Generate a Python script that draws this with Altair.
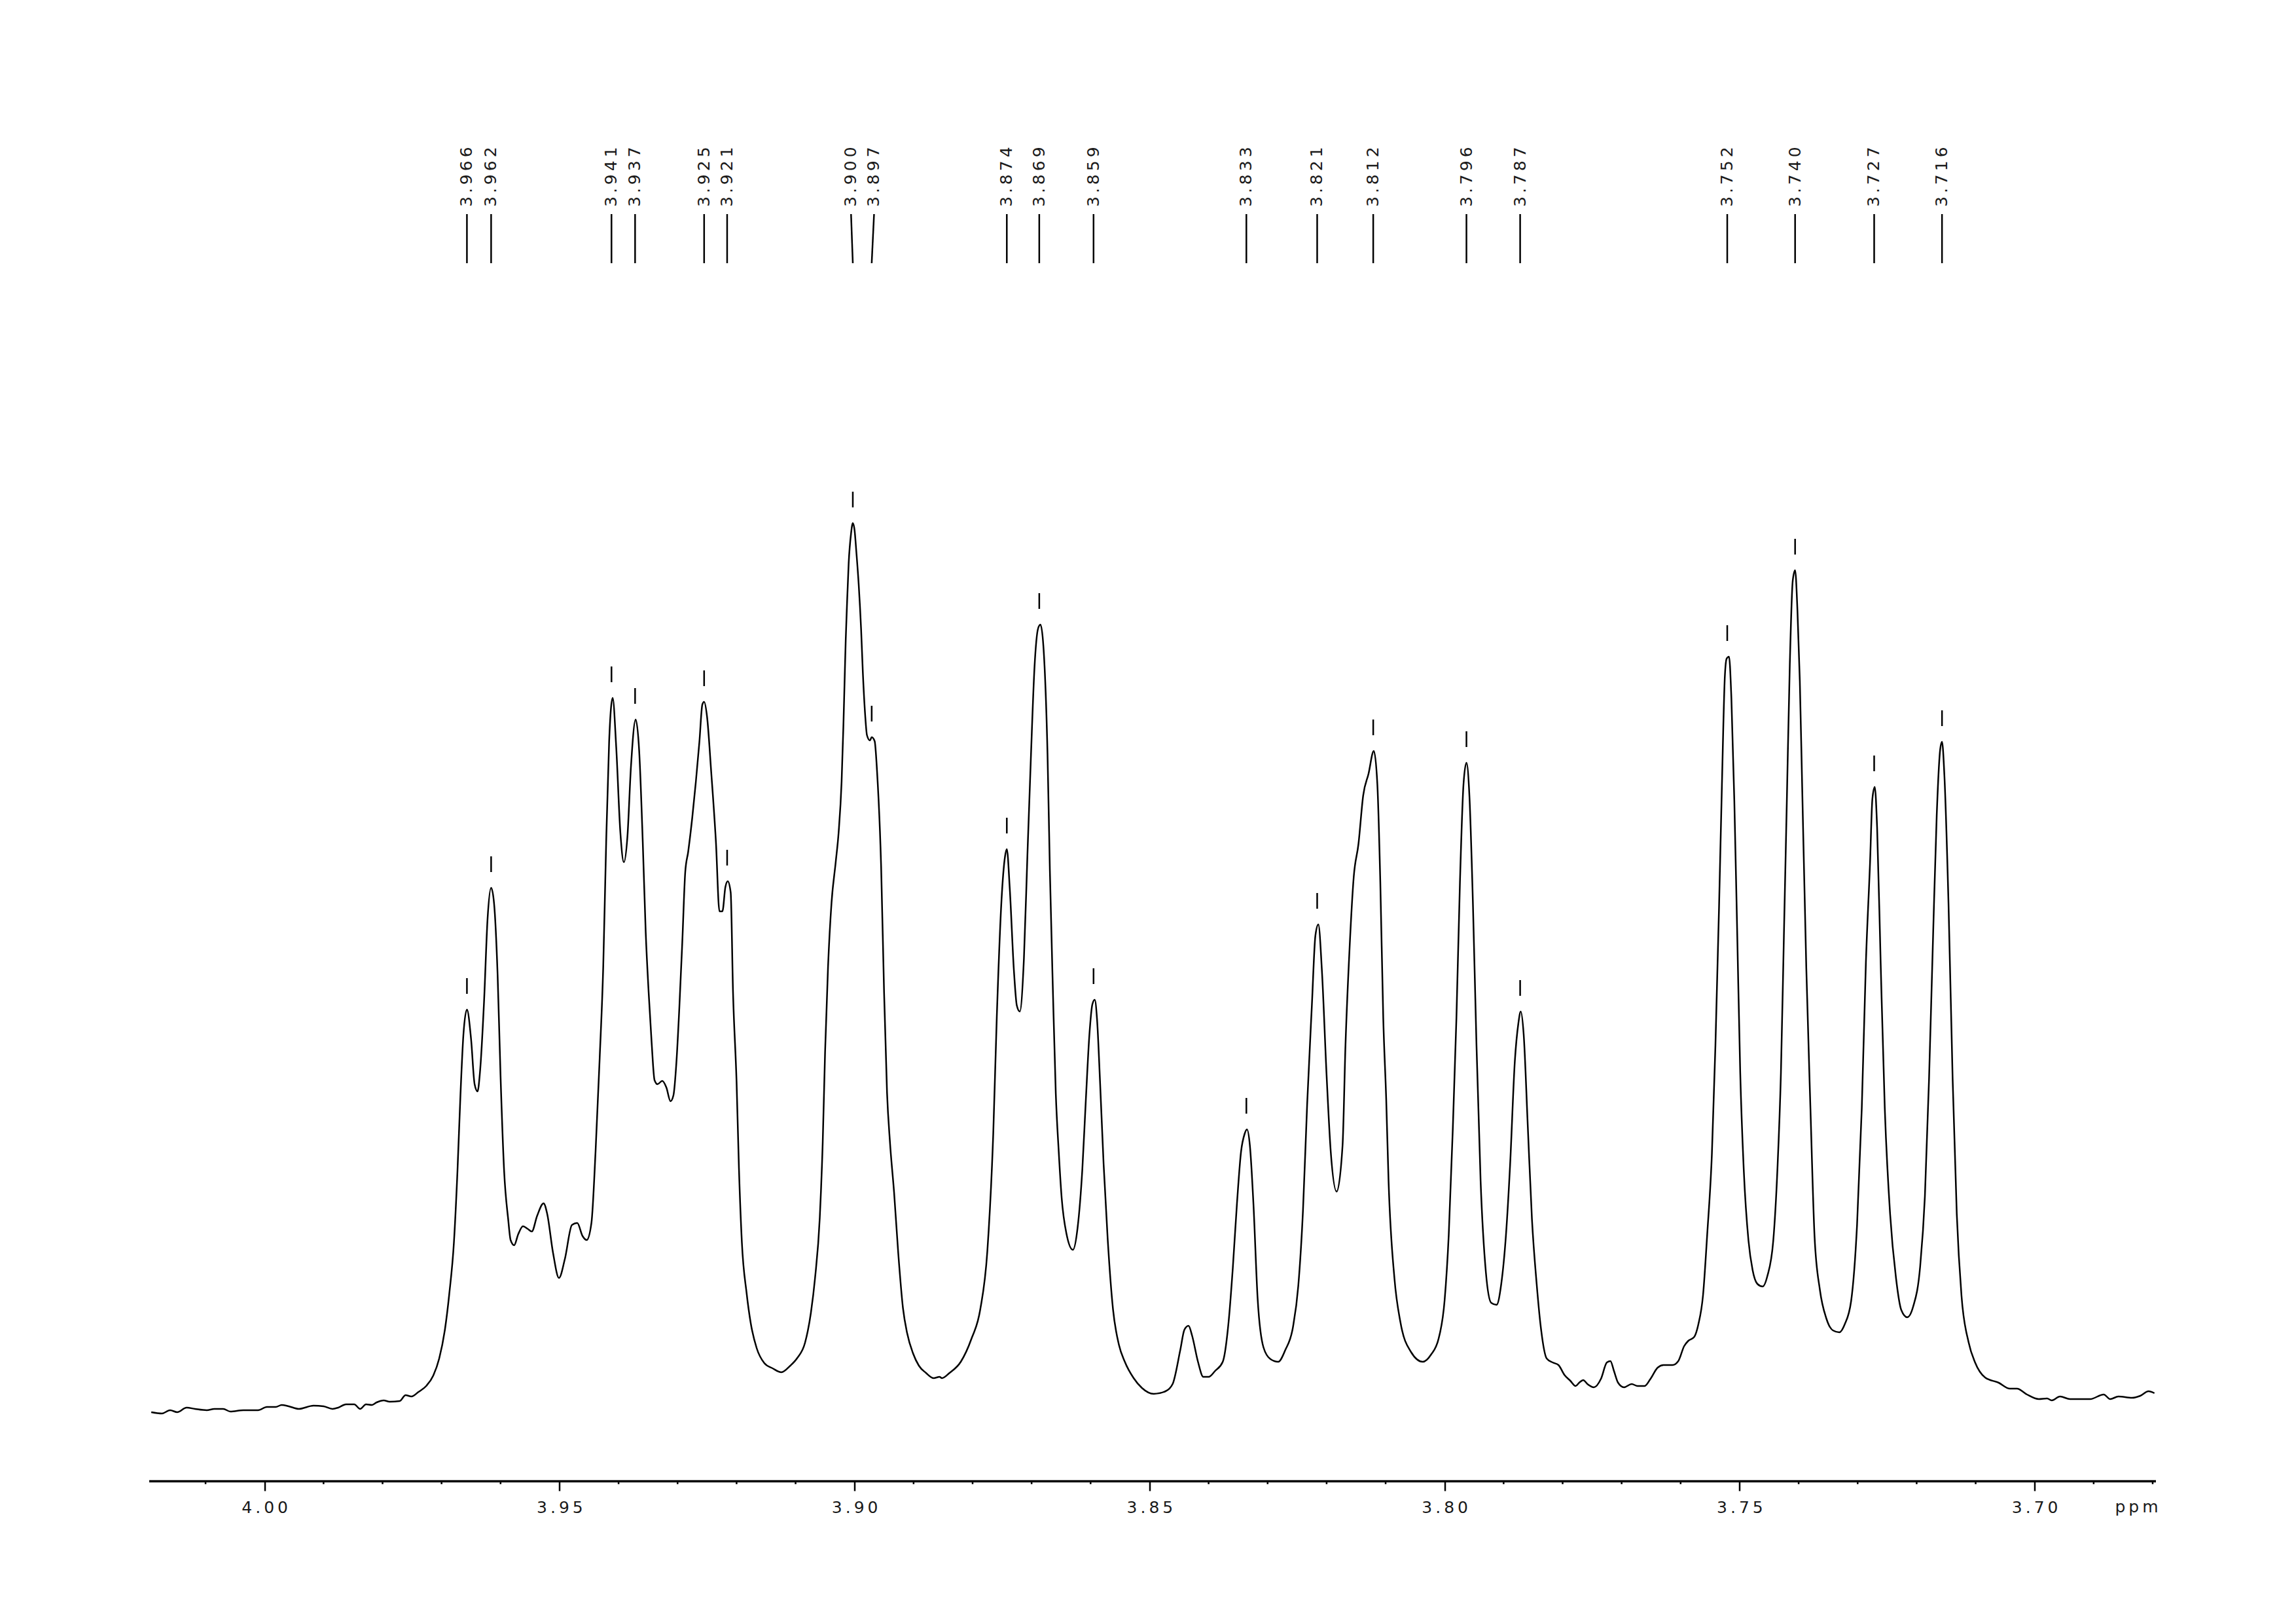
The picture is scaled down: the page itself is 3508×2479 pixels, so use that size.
import altair as alt
import pandas as pd

# ---- spectrum trace (chemical shift in ppm, intensity in arbitrary units) ----
seg_baseline_left = [
    (4.0192, 0.3), (4.0174, 0.1), (4.0160, 0.6), (4.0148, 0.3), (4.0132, 1.0), (4.0118, 0.8),
    (4.0098, 0.6), (4.0085, 0.8), (4.0070, 0.8), (4.0058, 0.4), (4.0036, 0.6), (4.0011, 0.6),
    (3.9996, 1.1), (3.9981, 1.1), (3.9971, 1.4), (3.9959, 1.2), (3.9942, 0.8), (3.9917, 1.3),
    (3.9900, 1.2), (3.9885, 0.8), (3.9875, 1.0), (3.9862, 1.5), (3.9848, 1.5), (3.9838, 0.8),
    (3.9828, 1.5), (3.9818, 1.4), (3.9810, 1.8), (3.9798, 2.1), (3.9788, 1.9), (3.9771, 2.0),
    (3.9761, 2.9), (3.9751, 2.7), (3.9739, 3.4), (3.9726, 4.3), (3.9714, 5.9), (3.9704, 8.5),
]
seg_396 = [
    (3.9694, 13.1), (3.9687, 18.3), (3.9679, 26.3), (3.9673, 37.2), (3.9668, 48.7), (3.9663, 57.9),
    (3.9657, 61.8), (3.9650, 57.3), (3.9644, 50.4), (3.9639, 49.3), (3.9635, 52.1), (3.9628, 63.0),
    (3.9622, 75.7), (3.9616, 80.4), (3.9611, 78.0), (3.9605, 67.1), (3.9600, 51.6), (3.9594, 37.2),
    (3.9587, 29.7), (3.9583, 26.6), (3.9577, 25.8), (3.9570, 27.5), (3.9562, 28.7), (3.9554, 28.3),
    (3.9547, 27.9), (3.9538, 30.3), (3.9527, 32.2), (3.9521, 30.6), (3.9511, 24.6), (3.9501, 20.8),
    (3.9491, 23.7), (3.9479, 28.9), (3.9470, 29.2), (3.9461, 27.2), (3.9454, 26.6), (3.9446, 29.2),
]
seg_394 = [
    (3.9439, 40.1), (3.9432, 54.4), (3.9426, 68.3), (3.9421, 87.4), (3.9416, 102.7), (3.9410, 109.4),
    (3.9404, 101.9), (3.9397, 88.9), (3.9391, 84.3), (3.9385, 88.2), (3.9379, 98.9), (3.9371, 106.1),
    (3.9365, 101.2), (3.9359, 87.4), (3.9354, 73.6), (3.9349, 64.4), (3.9344, 56.8), (3.9339, 51.0),
    (3.9334, 50.4), (3.9326, 50.9), (3.9319, 49.9), (3.9312, 47.8), (3.9307, 48.7), (3.9302, 53.7),
    (3.9297, 62.1), (3.9292, 72.1), (3.9287, 82.8), (3.9282, 85.9), (3.9275, 91.2), (3.9269, 96.6),
    (3.9263, 102.7), (3.9258, 108.4), (3.9255, 108.8), (3.9250, 106.5), (3.9243, 98.1), (3.9235, 87.4),
    (3.9229, 76.8), (3.9224, 76.8), (3.9219, 80.5), (3.9215, 81.4), (3.9210, 79.7), (3.9206, 64.4),
    (3.9200, 50.7), (3.9196, 37.6), (3.9191, 26.2), (3.9183, 18.5), (3.9176, 13.9), (3.9166, 10.1),
    (3.9153, 7.8), (3.9139, 7.0), (3.9124, 6.4), (3.9109, 7.4), (3.9097, 8.6), (3.9084, 10.9),
]
seg_390 = [
    (3.9074, 15.5), (3.9067, 20.8), (3.9059, 30.0), (3.9054, 41.5), (3.9050, 55.3), (3.9045, 68.3),
    (3.9039, 78.2), (3.9032, 84.3), (3.9027, 88.9), (3.9022, 96.6), (3.9019, 105.0), (3.9017, 111.7),
    (3.9015, 118.3), (3.9013, 123.3), (3.9010, 130.0), (3.9006, 134.5), (3.9003, 136.1), (3.9000, 135.0),
    (3.8997, 131.7), (3.8993, 126.7), (3.8989, 120.0), (3.8986, 113.3), (3.8982, 106.7), (3.8979, 103.7),
    (3.8974, 102.9), (3.8971, 103.4), (3.8966, 102.8), (3.8962, 98.3), (3.8955, 83.6), (3.8950, 64.4),
    (3.8945, 49.1), (3.8940, 41.5), (3.8933, 33.8), (3.8926, 24.6), (3.8918, 16.2), (3.8911, 12.4),
    (3.8901, 9.3), (3.8891, 7.4), (3.8879, 6.3), (3.8866, 5.5), (3.8856, 5.7), (3.8852, 5.5),
    (3.8839, 6.3), (3.8820, 8.0), (3.8802, 11.5), (3.8787, 16.0),
]
seg_387 = [
    (3.8775, 24.9), (3.8765, 42.8), (3.8759, 60.6), (3.8751, 78.5), (3.8745, 85.2), (3.8742, 86.3),
    (3.8737, 80.3), (3.8730, 67.8), (3.8725, 62.4), (3.8720, 61.5), (3.8713, 69.6), (3.8707, 85.6),
    (3.8701, 100.8), (3.8695, 114.2), (3.8689, 120.0), (3.8685, 120.6), (3.8680, 117.3), (3.8673, 100.8),
    (3.8669, 83.0), (3.8664, 65.1), (3.8659, 49.0), (3.8654, 40.1), (3.8649, 33.0), (3.8641, 27.6),
    (3.8630, 25.1), (3.8622, 28.5), (3.8614, 37.4), (3.8608, 48.1), (3.8602, 58.0), (3.8597, 62.6),
    (3.8593, 63.3), (3.8589, 60.2), (3.8584, 50.8), (3.8578, 38.3), (3.8571, 26.7), (3.8562, 16.0),
    (3.8552, 10.6), (3.8542, 8.0), (3.8527, 5.5), (3.8513, 4.0), (3.8493, 3.1), (3.8473, 3.5),
    (3.8461, 4.6), (3.8448, 9.8), (3.8441, 12.9), (3.8434, 13.5), (3.8428, 12.0), (3.8418, 8.0),
    (3.8409, 5.7), (3.8400, 5.7), (3.8389, 6.6), (3.8376, 8.0),
]
seg_382 = [
    (3.8366, 14.2), (3.8359, 22.3), (3.8352, 32.1), (3.8345, 40.1), (3.8339, 42.8), (3.8335, 43.5),
    (3.8330, 41.0), (3.8324, 32.1), (3.8317, 17.8), (3.8307, 10.2), (3.8295, 8.4), (3.8282, 8.0),
    (3.8270, 9.8), (3.8257, 13.3), (3.8248, 19.6), (3.8240, 31.2), (3.8233, 47.3), (3.8225, 62.4),
    (3.8219, 73.1), (3.8214, 74.8), (3.8208, 67.8), (3.8200, 51.7), (3.8193, 40.1), (3.8183, 34.0),
    (3.8173, 41.0), (3.8168, 56.4), (3.8161, 71.3), (3.8154, 82.1), (3.8146, 87.1), (3.8138, 94.5),
    (3.8129, 97.8), (3.8120, 101.3), (3.8114, 96.2), (3.8109, 81.3), (3.8104, 60.5), (3.8099, 48.1),
    (3.8095, 35.6), (3.8085, 20.7), (3.8075, 14.1), (3.8057, 9.5), (3.8037, 8.0), (3.8023, 9.1),
    (3.8010, 11.6),
]
seg_379 = [
    (3.8000, 17.4), (3.7993, 27.4), (3.7986, 43.9), (3.7980, 60.5), (3.7974, 81.3), (3.7968, 96.2),
    (3.7963, 99.5), (3.7958, 94.5), (3.7952, 77.9), (3.7946, 56.4), (3.7939, 35.6), (3.7930, 21.6),
    (3.7921, 17.0), (3.7912, 16.7), (3.7904, 19.9), (3.7896, 27.4), (3.7889, 38.1), (3.7881, 53.9),
    (3.7875, 59.7), (3.7871, 61.5), (3.7866, 58.0), (3.7859, 43.9), (3.7852, 29.8), (3.7844, 19.9),
    (3.7837, 13.3), (3.7827, 8.5), (3.7817, 7.9), (3.7807, 7.5), (3.7797, 6.0), (3.7787, 5.1),
    (3.7778, 4.3), (3.7772, 4.8), (3.7765, 5.2), (3.7758, 4.6), (3.7747, 4.1), (3.7735, 5.4),
    (3.7725, 7.9), (3.7719, 8.1), (3.7713, 6.6), (3.7706, 4.8), (3.7696, 4.1), (3.7683, 4.6),
    (3.7673, 4.3), (3.7661, 4.3), (3.7651, 5.4), (3.7639, 7.1), (3.7629, 7.5), (3.7614, 7.5),
    (3.7604, 8.1), (3.7594, 10.4), (3.7587, 11.2), (3.7577, 11.8), (3.7570, 13.7),
]
seg_373 = [
    (3.7562, 18.2), (3.7555, 27.4), (3.7547, 39.8), (3.7541, 56.4), (3.7535, 77.1), (3.7530, 96.2),
    (3.7525, 112.8), (3.7522, 115.4), (3.7518, 115.7), (3.7514, 109.4), (3.7509, 93.7), (3.7504, 73.0),
    (3.7499, 52.2), (3.7493, 37.3), (3.7485, 26.5), (3.7478, 22.0), (3.7470, 19.9), (3.7461, 19.5),
    (3.7453, 21.1), (3.7443, 26.5), (3.7436, 37.3), (3.7430, 52.2), (3.7425, 73.0), (3.7420, 93.7),
    (3.7415, 114.4), (3.7410, 127.3), (3.7406, 128.9), (3.7402, 122.7), (3.7398, 112.0), (3.7394, 95.8),
    (3.7387, 68.1), (3.7380, 46.7), (3.7373, 27.1), (3.7364, 19.0), (3.7353, 14.6), (3.7342, 12.8),
    (3.7331, 12.5), (3.7322, 13.7), (3.7311, 17.3), (3.7301, 28.9), (3.7293, 46.7), (3.7286, 69.0),
    (3.7279, 84.2), (3.7275, 94.0), (3.7271, 95.8), (3.7267, 89.6), (3.7261, 69.0), (3.7254, 46.7),
    (3.7245, 30.6), (3.7235, 20.8), (3.7226, 15.9), (3.7216, 14.8), (3.7206, 16.4), (3.7194, 22.6),
    (3.7186, 33.3), (3.7179, 51.2), (3.7172, 73.5), (3.7166, 91.4), (3.7160, 101.6), (3.7157, 102.7),
    (3.7153, 97.6), (3.7146, 78.0), (3.7139, 51.2), (3.7132, 30.6), (3.7124, 18.1), (3.7112, 11.0),
]
seg_baseline_right = [
    (3.7101, 7.9), (3.7084, 5.6), (3.7061, 4.8), (3.7042, 3.9), (3.7030, 3.9), (3.7013, 3.0),
    (3.6993, 2.3), (3.6979, 2.4), (3.6971, 2.1), (3.6957, 2.7), (3.6940, 2.3), (3.6906, 2.3),
    (3.6883, 3.0), (3.6872, 2.3), (3.6858, 2.7), (3.6835, 2.5), (3.6821, 2.8), (3.6807, 3.5),
    (3.6797, 3.2),
]

# ---- peak picking ----
peak_labels = ["3.966", "3.962", "3.941", "3.937", "3.925", "3.921", "3.900", "3.897",
               "3.874", "3.869", "3.859", "3.833", "3.821", "3.812", "3.796", "3.787",
               "3.752", "3.740", "3.727", "3.716"]
label_ppm = [3.9657, 3.9616, 3.9412, 3.9372, 3.9255, 3.9216, 3.9006, 3.8967,
             3.8742, 3.8687, 3.8595, 3.8336, 3.8216, 3.8121, 3.7963, 3.7872,
             3.7521, 3.7406, 3.7272, 3.7157]
peak_ppm = [3.9657, 3.9616, 3.9412, 3.9372, 3.9255, 3.9216, 3.9003, 3.8971,
            3.8742, 3.8687, 3.8595, 3.8336, 3.8216, 3.8121, 3.7963, 3.7872,
            3.7521, 3.7406, 3.7272, 3.7157]
peak_height = [61.8, 80.4, 109.4, 106.1, 108.8, 81.4, 136.1, 103.4,
               86.3, 120.6, 63.3, 43.5, 74.8, 101.3, 99.5, 61.5,
               115.7, 128.9, 95.8, 102.7]

major_ticks = [4.00, 3.95, 3.90, 3.85, 3.80, 3.75, 3.70]
minor_ticks = [4.01, 3.99, 3.98, 3.97, 3.96, 3.94, 3.93, 3.92, 3.91, 3.89, 3.88, 3.87,
               3.86, 3.84, 3.83, 3.82, 3.81, 3.79, 3.78, 3.77, 3.76, 3.74, 3.73, 3.72,
               3.71, 3.69, 3.68]

X_DOMAIN = [4.0196, 3.6795]
Y_DOMAIN = [-10.2, 196.0]
W, H = 3066, 2062
THIN = "\u2009"
FONT = "DejaVu Sans"
TEXT_COLOR = "#1a1a1a"

segments = (seg_baseline_left + seg_396 + seg_394 + seg_390 + seg_387 + seg_382
            + seg_379 + seg_373 + seg_baseline_right)
spec_df = pd.DataFrame({"ppm": [p for p, _ in segments],
                        "intensity": [v for _, v in segments]})
peaks_df = pd.DataFrame({
    "label": [THIN.join(s) for s in peak_labels],
    "label_ppm": label_ppm,
    "peak_ppm": peak_ppm,
    "height": peak_height,
})
minor_df = pd.DataFrame({"ppm": minor_ticks})
unit_df = pd.DataFrame({"t": [THIN.join("ppm")]})

xs = alt.Scale(domain=X_DOMAIN, nice=False, zero=False)
ys = alt.Scale(domain=Y_DOMAIN, nice=False, zero=False)

x_axis = alt.Axis(
    values=major_ticks, format=".2f",
    labelExpr="join(split(datum.label, ''), '" + THIN + "')",
    tickSize=15, tickWidth=2.5, tickColor="black",
    domainColor="black", domainWidth=3.5,
    labelFont=FONT, labelFontSize=25, labelFontWeight="normal", labelColor=TEXT_COLOR,
    labelPadding=13, grid=False, title=None, labelFlush=False, labelOverlap=False,
)


def X(field):
    return alt.X(field, scale=xs, axis=x_axis, title=None)


spectrum = alt.Chart(spec_df).mark_line(
    color="black", strokeWidth=2.5, interpolate="monotone"
).encode(
    x=X("ppm:Q"),
    y=alt.Y("intensity:Q", scale=ys, axis=None),
)

minor = alt.Chart(minor_df).mark_rule(color="black", strokeWidth=2.5).encode(
    x=X("ppm:Q"),
    y=alt.value(H),
    y2=alt.value(H + 5),
)

peak_marks = alt.Chart(peaks_df).mark_rule(
    color="black", strokeWidth=2.5, yOffset=-24, y2Offset=-48
).encode(
    x=X("peak_ppm:Q"),
    y=alt.Y("height:Q", scale=ys, axis=None),
    y2=alt.Y2("height:Q"),
)

label_lines = alt.Chart(peaks_df).mark_rule(color="black", strokeWidth=2.5).encode(
    x=X("label_ppm:Q"),
    x2=alt.X2("peak_ppm:Q"),
    y=alt.value(127),
    y2=alt.value(202),
)

label_text = alt.Chart(peaks_df).mark_text(
    angle=270, align="left", baseline="middle", font=FONT, fontSize=25,
    fontWeight="normal", color=TEXT_COLOR,
).encode(
    x=X("label_ppm:Q"),
    y=alt.value(116),
    text="label:N",
)

unit_text = alt.Chart(unit_df).mark_text(
    align="center", baseline="middle", font=FONT, fontSize=25, fontWeight="normal",
    color=TEXT_COLOR,
).encode(
    x=alt.value(3037),
    y=alt.value(H + 40),
    text="t:N",
)

chart = alt.layer(
    spectrum, minor, peak_marks, label_lines, label_text, unit_text
).properties(
    width=W, height=H,
    autosize=alt.AutoSizeParams(type="none"),
    padding={"left": 219.5, "top": 192, "right": 200, "bottom": 200},
    background="white",
).configure_view(stroke=None)

chart.save("out.html", embed_options={"renderer": "svg", "actions": False})
